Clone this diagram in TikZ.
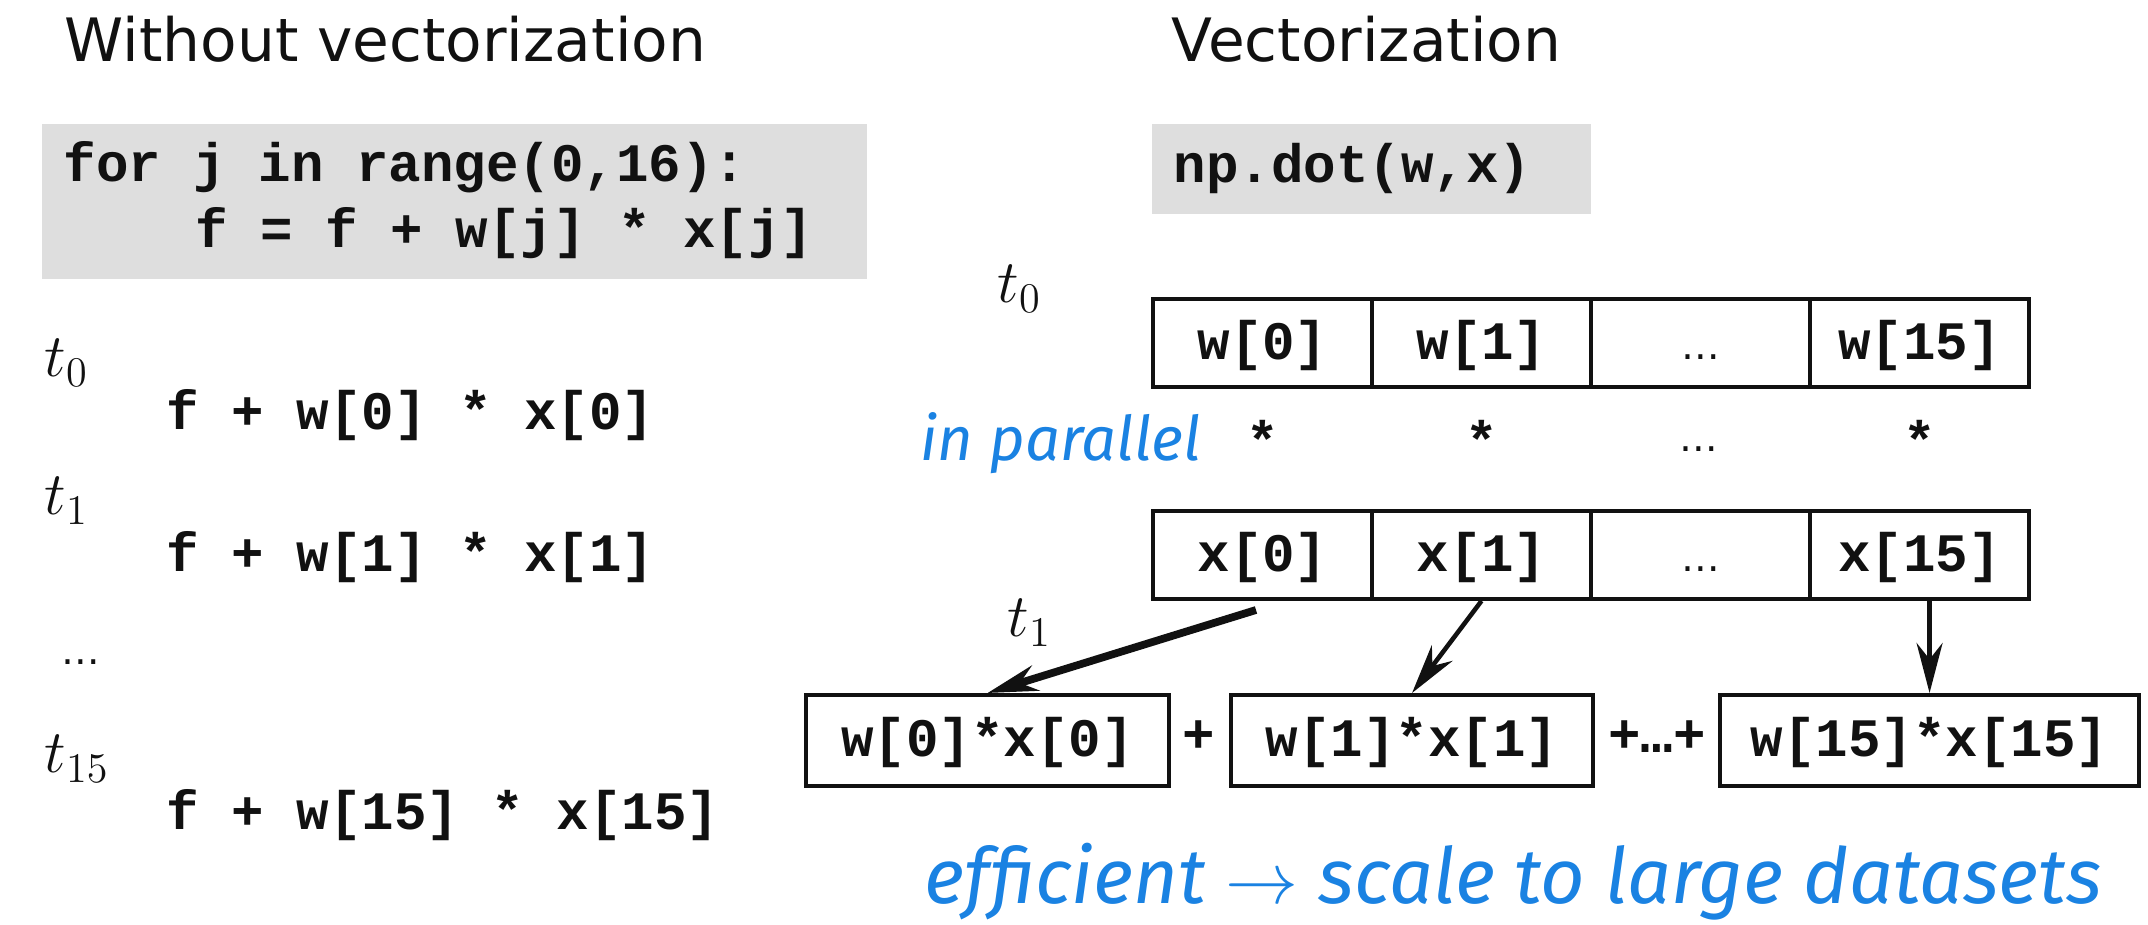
\documentclass[tikz,border=0pt]{standalone}
\usepackage[no-math]{fontspec}
\usetikzlibrary{arrows.meta,positioning}
\newfontfamily\headfont{DejaVu Sans}
\newfontfamily\codefont{Liberation Mono}
\newfontfamily\handfont{Fira Sans}
\definecolor{ink}{HTML}{111111}
\definecolor{codegray}{HTML}{DEDEDE}
\definecolor{pen}{HTML}{1A82E2}
\tikzset{head/.style={font=\headfont\fontsize{17}{20}\selectfont,text=ink,inner sep=0pt,anchor=base west},
  code/.style={font=\codefont\bfseries\fontsize{15.4}{18}\selectfont,text=ink,inner sep=0pt},
  codebox/.style={fill=codegray,inner sep=0pt,anchor=north west},
  cell/.style={code,draw=ink,line width=1.1pt,minimum width=2.19cm,minimum height=0.88cm,
    text height=12.5pt,text depth=3.3pt,anchor=north west},
  prod/.style={cell,minimum height=0.91cm},
  tlab/.style={font=\fontsize{17}{20}\selectfont,text=ink,inner sep=0pt,anchor=base west},
  dots/.style={font=\headfont\fontsize{11}{13}\selectfont,text=ink,inner sep=0pt,anchor=base},
  hand/.style={text=pen,font=\handfont\itshape\fontsize{#1}{#1}\selectfont,inner sep=0pt,anchor=base west},
  push/.style={draw=ink,-{Stealth[length=5mm,width=2.6mm]},line width=1.3pt}}

\begin{document}
\begin{tikzpicture}[x=0.01cm,y=-0.01cm]
\useasboundingbox (0,0) rectangle (2148,925);
% left: plain loop
\node[head] (lhead) at (64,62) {Without vectorization};
\node[codebox,minimum width=8.25cm,minimum height=1.55cm] (loopbox) at (41,123) {};
\node[code,anchor=base west] (for) at (63,182) {for j in range(0,16):};
\node[code,anchor=base west] (body) at (195,248) {f = f + w[j] * x[j]};
\foreach \k/\ty/\cy in {0/377/430,1/515/572,15/773/830}{
 \node[tlab] (lt\k) at (44,\ty) {$t_{\k}$};
 \node[code,anchor=base west] (lc\k) at (166,\cy) {f + w[\k] * x[\k]};
}
\node[dots,anchor=base west] (ldots) at (61,665) {…};
% right: vectorized
\node[head] (rhead) at (1171,62) {Vectorization};
\node[codebox,minimum width=4.39cm,minimum height=0.9cm] (dotbox) at (1151,123) {};
\node[code,anchor=base west] (npdot) at (1173,183) {np.dot(w,x)};
\node[tlab] (rt0) at (997,303) {$t_0$};
\foreach \i/\lab [count=\k from 0] in {0/[0],1/[1],d/,15/[15]}{
 \ifx\lab\empty
  \node[cell,font=\headfont\fontsize{11}{13}\selectfont] (w\i) at (1151+219*\k,297) {…};
  \node[cell,font=\headfont\fontsize{11}{13}\selectfont] (x\i) at (1151+219*\k,509) {…};
 \else
  \node[cell] (w\i) at (1151+219*\k,297) {w\lab};
  \node[cell] (x\i) at (1151+219*\k,509) {x\lab};
 \fi
}
\foreach \i in {0,1,15}{\node[code] (star\i) at (w\i.south |- 0,440) {*};}
\node[dots] (stard) at (1699,452) {…};
\node[hand=17.5] (par) at (920,461) {in parallel};
\node[tlab] (rt1) at (1007,637) {$t_1$};
\node[prod,minimum width=3.63cm] (p0) at (804,693) {w[0]*x[0]};
\node[prod,minimum width=3.62cm] (p1) at (1229,693) {w[1]*x[1]};
\node[prod,minimum width=4.19cm] (p15) at (1718,693) {w[15]*x[15]};
\node[code,anchor=base] (plus0) at (1199,753) {+};
\node[code,anchor=base] (plus1) at (1657,753) {+…+};
\coordinate (a0) at (1256,610);
\draw[push,line width=2.2pt] (a0) -- (p0.north);
\draw[push] (x1.south) -- (p1.north);
\draw[push] (p15.north |- x15.south) -- (p15.north);
\node[hand=22] (eff) at (924,903) {efficient $\rightarrow$ scale to large datasets};
\end{tikzpicture}
\end{document}
